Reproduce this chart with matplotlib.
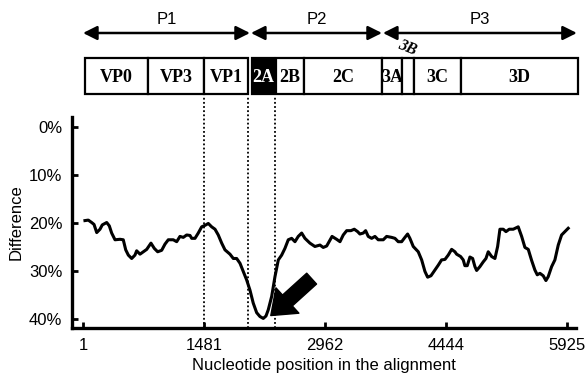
import matplotlib
matplotlib.use("Agg")
import matplotlib.pyplot as plt
from matplotlib.patches import Rectangle

plt.rcParams['font.family'] = ['Liberation Sans', 'DejaVu Sans']

# sliding-window difference along the alignment
position = [25, 66, 107, 136, 169, 209, 237, 291, 323, 352, 393, 454, 494, 524,
            556, 597, 637, 658, 699, 739, 781, 833, 874, 915, 964, 1005, 1045,
            1106, 1148, 1188, 1229, 1270, 1311, 1332, 1372, 1412, 1454, 1494,
            1535, 1576, 1617, 1657, 1699, 1739, 1800, 1841, 1882, 1923, 1963,
            2005, 2045, 2085, 2127, 2167, 2208, 2241, 2269, 2311, 2351, 2392,
            2433, 2473, 2514, 2555, 2596, 2636, 2678, 2718, 2779, 2840, 2902,
            2942, 2984, 3024, 3050, 3106, 3147, 3187, 3229, 3281, 3322, 3363,
            3391, 3432, 3461, 3493, 3535, 3575, 3615, 3677, 3718, 3779, 3820,
            3860, 3902, 3942, 3975, 4003, 4044, 4105, 4147, 4187, 4220, 4261,
            4310, 4350, 4391, 4432, 4472, 4514, 4554, 4575, 4624, 4656, 4676,
            4705, 4738, 4771, 4799, 4820, 4860, 4901, 4934, 4962, 5004, 5044,
            5077, 5105, 5146, 5179, 5219, 5268, 5329, 5371, 5411, 5452, 5493,
            5533, 5562, 5595, 5635, 5668, 5696, 5738, 5778, 5819, 5860, 5900,
            5941]
difference = [19.5, 19.4, 19.9, 20.3, 22.0, 21.3, 20.4, 19.9, 20.6, 22.1, 23.5,
              23.4, 23.5, 25.6, 26.7, 27.4, 26.7, 25.8, 26.5, 26.0, 25.5, 24.2,
              25.3, 26.0, 25.7, 24.4, 23.5, 23.5, 23.9, 22.8, 23.0, 22.5, 22.6,
              23.2, 23.2, 22.1, 20.8, 20.5, 20.1, 20.8, 21.3, 22.5, 24.2, 25.6,
              26.5, 27.4, 27.4, 28.4, 30.1, 31.9, 34.0, 36.7, 38.7, 39.5, 39.9,
              39.4, 38.1, 35.3, 31.2, 27.7, 26.7, 25.3, 23.5, 23.2, 23.9, 22.8,
              22.1, 23.2, 24.2, 24.9, 24.6, 25.1, 24.8, 23.6, 22.8, 23.4, 23.9,
              22.5, 21.6, 21.6, 21.3, 21.8, 22.3, 22.1, 21.6, 22.8, 23.2, 22.8,
              23.5, 23.5, 22.8, 23.0, 23.2, 23.9, 23.9, 23.0, 22.3, 23.2, 24.9,
              26.0, 27.7, 30.1, 31.3, 31.0, 29.8, 28.8, 27.7, 27.6, 26.7, 25.5,
              26.0, 26.5, 27.0, 27.7, 28.9, 28.9, 27.1, 27.4, 29.1, 29.9, 29.1,
              28.1, 27.4, 26.0, 27.0, 27.4, 24.9, 21.3, 21.3, 21.8, 21.3, 21.3,
              20.8, 22.8, 25.1, 25.5, 27.8, 29.8, 30.8, 30.5, 31.0, 32.0, 31.2,
              29.1, 27.7, 24.6, 22.5, 21.8, 21.1]

xticks = [1, 1481, 2962, 4444, 5925]
yticks = [0, 10, 20, 30, 40]
ytick_labels = ['0%', '10%', '20%', '30%', '40%']

# genome map (nucleotide start, end)
genes = ['VP0', 'VP3', 'VP1', '2A', '2B', '2C', '3A', '3B', '3C', '3D']
gene_start = [25, 797, 1482, 2069, 2363, 2706, 3661, 3906, 4052, 4628]
gene_end = [797, 1482, 2020, 2339, 2706, 3661, 3906, 4052, 4628, 6060]
proteins = ['P1', 'P2', 'P3']
protein_start = [1, 2057, 3673]
protein_end = [2045, 3661, 6047]
boundaries = [1482, 2020, 2351]

XMIN, XMAX = -134, 6035

fig = plt.figure(figsize=(5.88, 3.8), dpi=100)
ax = fig.add_axes([0.1224, 0.1368, 0.857, 0.5553])
hx = fig.add_axes([0.1224, 0.6921, 0.857, 0.3079])

ax.plot(position, difference, color='black', lw=2.2, solid_joinstyle='round')
ax.set_xlim(XMIN, XMAX)
ax.set_ylim(41.9, -2.1)
ax.set_xticks(xticks)
ax.set_xticklabels([str(t) for t in xticks])
ax.set_yticks(yticks)
ax.set_yticklabels(ytick_labels)
ax.tick_params(direction='in', length=4, width=2, labelsize=12, pad=7)
for s in ['top', 'right']:
    ax.spines[s].set_visible(False)
for s in ['left', 'bottom']:
    ax.spines[s].set_linewidth(2.4)
ax.set_xlabel('Nucleotide position in the alignment', fontsize=12, labelpad=4)
ax.set_ylabel('Difference', fontsize=12, labelpad=4)

ax.vlines(boundaries, 41.9, -6.3, colors='black', linestyles=(0, (1, 1.3)),
          lw=1.3, clip_on=False)

ax.annotate('', xy=(2300, 39.3), xytext=(2800, 31.6),
            arrowprops=dict(arrowstyle='simple,head_length=0.95,head_width=1.45,tail_width=0.62',
                            fc='black', ec='black', mutation_scale=17,
                            shrinkA=0, shrinkB=0))

# header
hx.set_xlim(XMIN, XMAX)
hx.set_ylim(117, 0)
hx.axis('off')
for g, s, e in zip(genes, gene_start, gene_end):
    black = g == '2A'
    hx.add_patch(Rectangle((s, 58), e - s, 36, fc='black' if black else 'white',
                           ec='black', lw=1.6, clip_on=False))
    if g == '3B':
        hx.text(3967, 48, g, ha='center', va='center', fontsize=11.5,
                fontweight='bold', style='italic', family='Liberation Serif',
                rotation=-22)
    else:
        hx.text((s + e) / 2, 77, g, ha='center', va='center', fontsize=13,
                fontweight='bold', family='Liberation Serif',
                color='white' if black else 'black')
for p, s, e in zip(proteins, protein_start, protein_end):
    hx.annotate('', xy=(s, 33), xytext=(e, 33),
                arrowprops=dict(arrowstyle='<|-|>,head_length=0.6,head_width=0.3',
                                color='black', lw=1.8, shrinkA=0, shrinkB=0,
                                mutation_scale=14))
    hx.text((s + e) / 2, 19, p, ha='center', va='center', fontsize=12)

fig.savefig('out.png', dpi=100)
